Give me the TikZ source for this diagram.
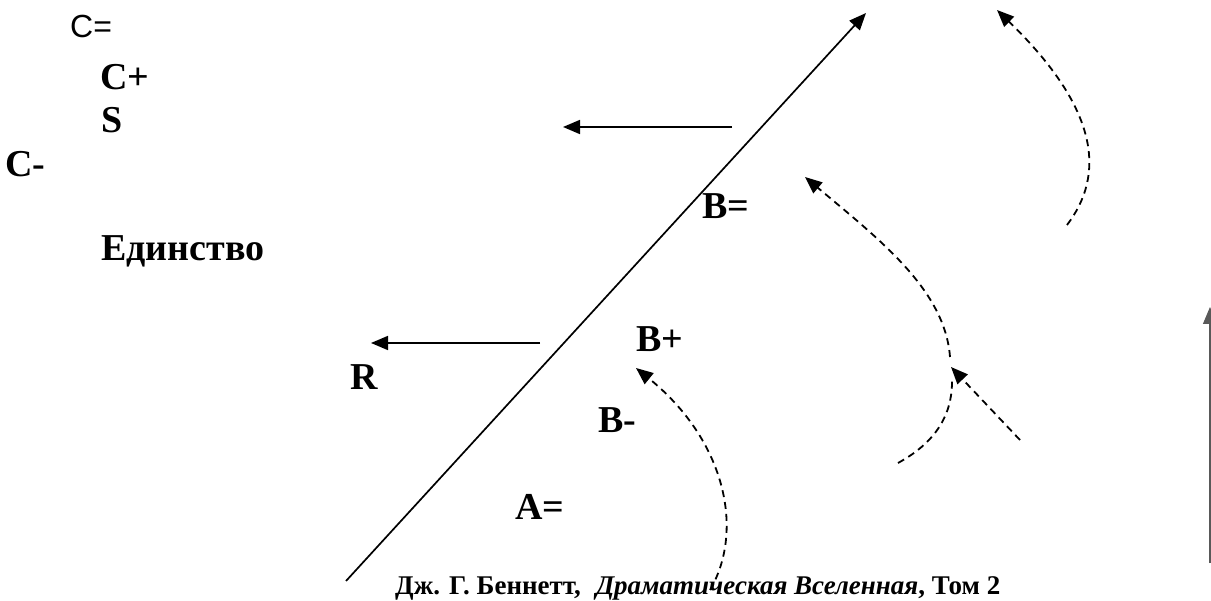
\documentclass[tikz,border=0pt]{standalone}
\usepackage{fontspec}
\setmainfont{Liberation Serif}
\newfontfamily\sansf{Liberation Sans}
\usetikzlibrary{arrows.meta}
\begin{document}
\begin{tikzpicture}[x=1pt,y=-1pt,
  lbl/.style={font=\bfseries\fontsize{38}{40}\selectfont, inner sep=0pt, anchor=base west},
  tip/.style={-{Triangle[length=17pt,width=14pt]}},
  solidarrow/.style={line width=1.7pt, tip},
  dasharrow/.style={line width=1.8pt, dash pattern=on 7pt off 5pt, tip},
  dashline/.style={line width=1.8pt, dash pattern=on 7pt off 5pt}]
\useasboundingbox (0,0) rectangle (1211,601);
\fill[white] (0,0) rectangle (1211,601);
% labels
\node[inner sep=0pt, anchor=base west, font=\sansf\fontsize{32}{34}\selectfont] (ceq) at (70,38) {C=};
\node[lbl] (cplus) at (100,90) {C+};
\node[lbl] (s) at (101,133) {S};
\node[lbl] (cminus) at (5,177) {C-};
\node[lbl] (edin) at (101,261) {Единство};
\node[lbl] (beq) at (702,219) {B=};
\node[lbl] (bplus) at (636,352) {B+};
\node[lbl] (r) at (350,390) {R};
\node[lbl] (bminus) at (598,433) {B-};
\node[lbl] (aeq) at (515,519) {A=};
\node[inner sep=0pt, anchor=base west, font=\bfseries\fontsize{27}{29}\selectfont] (cap) at (395,594)
  {Дж. Г. Беннетт,\hspace{0.55em}\textit{Драматическая Вселенная}, Том 2};
% coordinates
\coordinate (m0) at (346,581); \coordinate (m1) at (866,13);
\coordinate (h1a) at (732,127); \coordinate (h1b) at (563,127);
\coordinate (h2a) at (540,343); \coordinate (h2b) at (371,343);
\coordinate (v0) at (1210,563); \coordinate (v1) at (1210,307);
\coordinate (ca0) at (710,590); \coordinate (ca1) at (636,368);
\coordinate (cb0) at (898,463); \coordinate (cb1) at (952,378);
\coordinate (sd0) at (1020,440); \coordinate (sd1) at (951,367);
\coordinate (cu0) at (950,357); \coordinate (cu1) at (805,177);
\coordinate (ct0) at (1067,225); \coordinate (ct1) at (997,10);
% connectors
\draw[solidarrow] (m0) -- (m1);
\draw[solidarrow] (h1a) -- (h1b);
\draw[solidarrow] (h2a) -- (h2b);
\draw[line width=1.1pt, draw=black!65, tip] (v0) -- (v1);
\draw[dasharrow] (ca0) .. controls (745,530) and (725,440) .. (ca1);
\draw[dashline] (cb0) .. controls (940,440) and (953,410) .. (cb1);
\draw[dasharrow] (sd0) -- (sd1);
\draw[dasharrow] (cu0) .. controls (945,290) and (880,240) .. (cu1);
\draw[dasharrow] (ct0) .. controls (1105,175) and (1100,110) .. (ct1);
\end{tikzpicture}
\end{document}
